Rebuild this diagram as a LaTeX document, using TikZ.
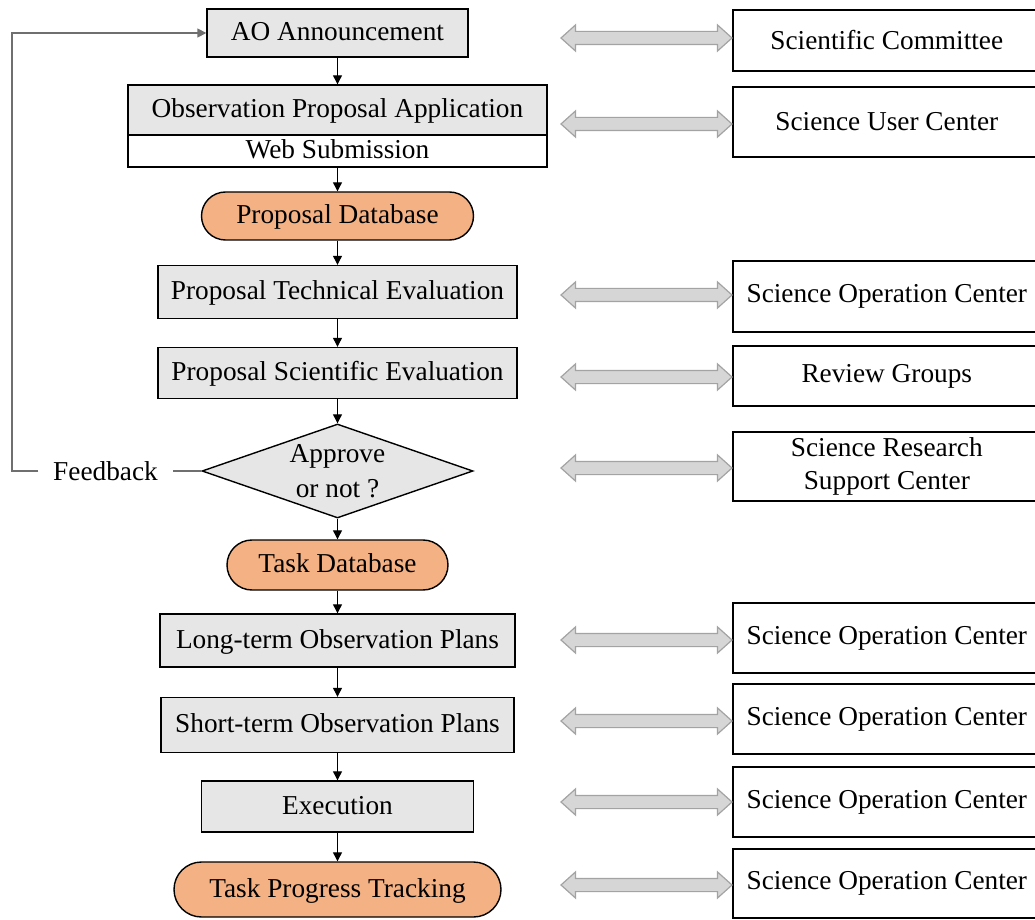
\documentclass[tikz,border=0pt]{standalone}
\usepackage{fontspec}
\setmainfont{Liberation Serif}
\usetikzlibrary{positioning,arrows.meta,shapes.geometric,shapes.arrows}
\definecolor{boxgray}{HTML}{E7E6E6}
\definecolor{dborange}{HTML}{F4B183}
\definecolor{dafill}{HTML}{D6D6D6}
\definecolor{daedge}{HTML}{A3A3A3}
\definecolor{fbgray}{HTML}{6F6F6F}

\begin{document}
\begin{tikzpicture}[x=0.5pt, y=-0.5pt,
  font=\fontsize{13.65}{17.5}\selectfont,
  proc/.style={draw, fill=boxgray, line width=0.7pt, inner sep=0pt, text height=9.3pt, text depth=1.8pt},
  db/.style={draw, fill=dborange, line width=0.7pt, inner sep=0pt, text height=9.3pt, text depth=1.8pt},
  side/.style={draw, line width=0.8pt, anchor=west, minimum width=154pt, align=center, inner sep=0pt},
  dbl/.style={double arrow, draw=daedge, fill=dafill, line width=0.6pt, inner sep=3pt,
    double arrow head extend=3.25pt, double arrow tip angle=84, minimum height=85.5pt},
  flow/.style={-{Triangle[length=4.5pt,width=4.5pt]}, line width=0.6pt},
  fbline/.style={draw=fbgray, line width=0.8pt}]
\useasboundingbox (0,0) rectangle (1035,920);

\node[proc, minimum width=130.5pt, minimum height=24pt] (ao) at (337.5,33) {AO Announcement};
\node[proc, minimum width=209.5pt, minimum height=25pt] (opa) at (337.5,110) {Observation Proposal Application};
\node[draw, fill=white, line width=0.7pt, inner sep=0pt, text height=9.3pt, text depth=1.8pt,
  minimum width=209.5pt, minimum height=16pt] (web) at (337.5,151) {Web Submission};
\node[db, rounded corners=12pt, minimum width=136pt, minimum height=24pt] (pdb) at (337.5,216) {Proposal Database};
\node[proc, minimum width=179.5pt, minimum height=26.5pt] (pte) at (337.5,292) {Proposal Technical Evaluation};
\node[proc, minimum width=179.5pt, minimum height=25.5pt] (pse) at (337.5,373) {Proposal Scientific Evaluation};
\node[diamond, aspect=2.9, draw, fill=boxgray, line width=0.7pt, inner sep=0pt, align=center,
  minimum width=135.5pt, minimum height=47pt] (dec) at (337.5,471) {Approve\\or not ?};
\node[db, rounded corners=12.5pt, minimum width=110.5pt, minimum height=25pt] (tdb) at (337.5,565) {Task Database};
\node[proc, minimum width=177.5pt, minimum height=26.5pt] (ltp) at (337.5,640.5) {Long-term Observation Plans};
\node[proc, minimum width=176.5pt, minimum height=27.5pt] (stp) at (337.5,725) {Short-term Observation Plans};
\node[proc, minimum width=136pt, minimum height=25.5pt] (exe) at (337.5,806.5) {Execution};
\node[db, rounded corners=13.75pt, minimum width=163.5pt, minimum height=27.5pt] (tpt) at (337.5,889.5) {Task Progress Tracking};

\node[inner xsep=7.25pt] (fb) at (105.5,471) {Feedback};
\coordinate (fbc) at (12,471);

\draw[flow] (ao) -- (opa);
\draw[flow] (web) -- (pdb);
\draw[flow] (pdb) -- (pte);
\draw[flow] (pte) -- (pse);
\draw[flow] (pse) -- (dec);
\draw[flow] (dec) -- (tdb);
\draw[flow] (tdb) -- (ltp);
\draw[flow] (ltp) -- (stp);
\draw[flow] (stp) -- (exe);
\draw[flow] (exe) -- (tpt);

\draw[fbline] (dec.west) -- (fb.east);
\draw[fbline, -{Triangle[length=4.5pt,width=4.5pt]}] (fb.west) -- (fbc) |- (ao.west);

\node[side, minimum height=30.5pt] (sc) at (732,40.5) {Scientific Committee};
\node[side, minimum height=35pt] (suc) at (732,122) {Science User Center};
\node[side, minimum height=35.5pt] (soc1) at (732,296.5) {Science Operation Center};
\node[side, minimum height=30pt] (rg) at (732,376) {Review Groups};
\node[side, minimum height=34.5pt] (srsc) at (732,466.5) {Science Research\\[-1pt]Support Center};
\node[side, minimum height=35pt] (soc2) at (732,638) {Science Operation Center};
\node[side, minimum height=35pt] (soc3) at (732,719) {Science Operation Center};
\node[side, minimum height=35pt] (soc4) at (732,802) {Science Operation Center};
\node[side, minimum height=34.5pt] (soc5) at (732,883.5) {Science Operation Center};

\foreach \y [count=\i] in {38,124,295,377,468,640,721,802,885}
  \node[dbl] (da\i) at (646.5,\y) {};
\end{tikzpicture}
\end{document}
